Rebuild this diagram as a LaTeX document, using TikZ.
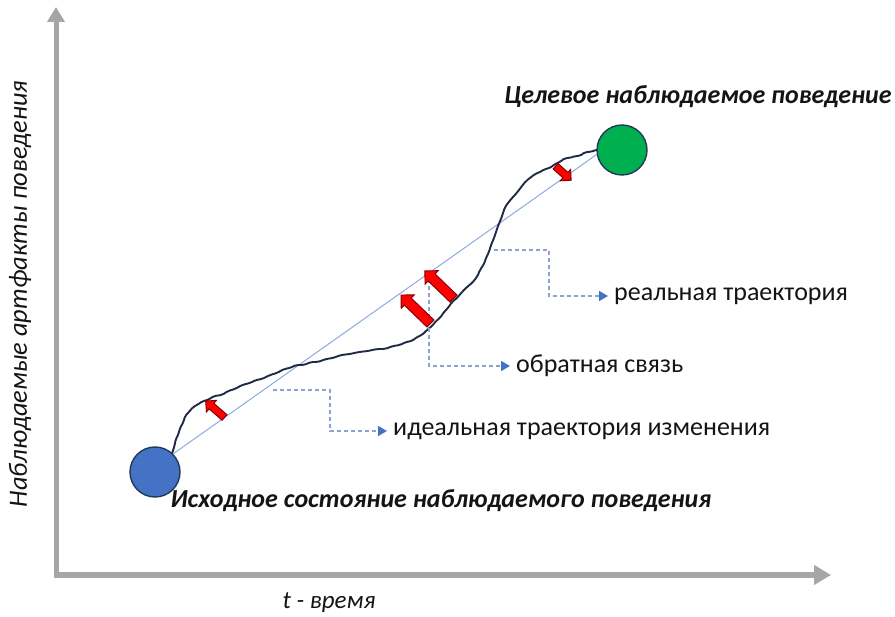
\documentclass[tikz,border=0pt]{standalone}
\usepackage{fontspec}
\setmainfont{Carlito}
\usetikzlibrary{arrows.meta,shapes.arrows}

\definecolor{axisgrey}{HTML}{A6A6A6}
\definecolor{startblue}{HTML}{4472C4}
\definecolor{goalgreen}{HTML}{00B050}
\definecolor{rimnavy}{HTML}{24385E}
\definecolor{idealblue}{HTML}{8FAADC}
\definecolor{pathnavy}{HTML}{1F2A44}
\definecolor{leadblue}{HTML}{8EA2CF}
\definecolor{tipblue}{HTML}{4472C4}
\definecolor{pushred}{HTML}{FF0000}
\definecolor{pushrim}{HTML}{7A0000}
\definecolor{inktext}{HTML}{141414}

\newcommand{\shaft}[1]{\rule{0pt}{#1}}

\tikzset{
  axisline/.style={draw=axisgrey, line width=5pt,
    {Triangle[length=15pt,width=17pt]}-{Triangle[length=17pt,width=19pt]}},
  state/.style={circle, minimum size=50pt, inner sep=0pt, draw=rimnavy, line width=1.4pt},
  ideal/.style={draw=idealblue, line width=1pt},
  real/.style={draw=pathnavy, line width=1.9pt, line join=round, line cap=round,
    rounded corners=2pt},
  push/.style={single arrow, inner sep=0pt, fill=pushred, draw=pushrim, line width=0.9pt},
  lead/.style={draw=leadblue, line width=1.6pt, dash pattern=on 4pt off 3pt,
    -{Triangle[length=9pt,width=10pt,color=tipblue]}},
  note/.style={font=\fontsize{26}{30}\selectfont, text=inktext, inner xsep=6pt,
    inner ysep=2pt, anchor=west},
  title/.style={font=\fontsize{26}{30}\selectfont\bfseries\itshape, text=inktext, inner sep=0pt},
}

\begin{document}
\begin{tikzpicture}[x=1pt,y=-1pt]
\useasboundingbox (0,0) rectangle (895,617);

% axes
\coordinate (ytip) at (56,7);
\coordinate (orig) at (56,575);
\coordinate (xtip) at (831,575);
\draw[axisline] (ytip) -- (orig) -- (xtip);

\node[rotate=90, font=\fontsize{26.4}{30}\selectfont\itshape, text=inktext, inner sep=0pt]
  (ylab) at (20,294) {Наблюдаемые артфакты поведения};
\node[font=\fontsize{25}{29}\selectfont\itshape, text=inktext, inner sep=0pt]
  (xlab) at (329,603) {t - время};

% start and goal states
\node[state, fill=startblue] (start) at (155,472) {};
\node[state, fill=goalgreen] (goal) at (622,150) {};

\node[title] (goaltxt) at (698,97) {Целевое наблюдаемое поведение};
\node[title] (starttxt) at (441,501) {Исходное состояние наблюдаемого поведения};

% ideal trajectory
\draw[ideal] (start.45) -- (goal.190);

% real trajectory, a slightly shaky hand-drawn line
\draw[real] (start.48) -- (174.5,446) -- (175.5,440) -- (178.5,434) -- (180,428)
  -- (183.5,422) -- (185,416) -- (189,412) -- (193,407) -- (197,405) -- (203,401)
  -- (208,400) -- (214,396) -- (222,395) -- (228,391) -- (235,389) -- (242,385)
  -- (250,383) -- (256,380) -- (262,379) -- (270,375) -- (277,373) -- (284,369)
  -- (290,368) -- (296,365) -- (304,365) -- (311,362) -- (318,362) -- (326,359)
  -- (333,358) -- (341,355) -- (350,354) -- (359,352) -- (368,351) -- (377,349)
  -- (385,349) -- (393,346) -- (400,345) -- (406,342) -- (412,341) -- (417,337)
  -- (422,335) -- (427,330) -- (432,326) -- (436,321) -- (440,318) -- (444,312)
  -- (448,308) -- (452,302) -- (457,298) -- (462,292) -- (467,287) -- (472,283)
  -- (477,277) -- (480,270) -- (484,264) -- (486,258) -- (489,252) -- (491,245)
  -- (494,238) -- (496,232) -- (498,226) -- (501,219) -- (503,213) -- (505,207)
  -- (508,203) -- (512,198) -- (515,195) -- (519,190) -- (522,186) -- (526,181)
  -- (530,178) -- (535,174) -- (540,172) -- (545,169) -- (550,168) -- (555,164)
  -- (560,162) -- (565,158) -- (570,158) -- (575,156) -- (580,156) -- (585,152)
  -- (590,152) -- (goal.180);

% callout labels
\node[note] (idealtxt) at (387,431) {идеальная траектория изменения};
\node[note] (backtxt)  at (510,366) {обратная связь};
\node[note] (realtxt)  at (608,296) {реальная траектория};

\coordinate (idealfoot) at (273,390);
\coordinate (backfoot)  at (429,279);
\coordinate (realfoot)  at (494,250);

\draw[lead] (idealfoot) -| (330,410) |- (idealtxt.west);
\draw[lead] (backfoot) |- (backtxt.west);
\draw[lead] (realfoot) -| (549,270) |- (realtxt.west);

% feedback pushes
\node[push, minimum height=25pt, single arrow head extend=4pt, rotate=139]
  (push1) at (216.5,410.5) {\shaft{6.5pt}};
\node[push, minimum height=41pt, single arrow head extend=4.5pt, rotate=136]
  (push2) at (417.5,311) {\shaft{9pt}};
\node[push, minimum height=40pt, single arrow head extend=4.5pt, rotate=136]
  (push3) at (441,286.5) {\shaft{9pt}};
\node[push, minimum height=21pt, single arrow head extend=4pt, rotate=-42]
  (push4) at (562,172) {\shaft{6.5pt}};
\end{tikzpicture}
\end{document}
